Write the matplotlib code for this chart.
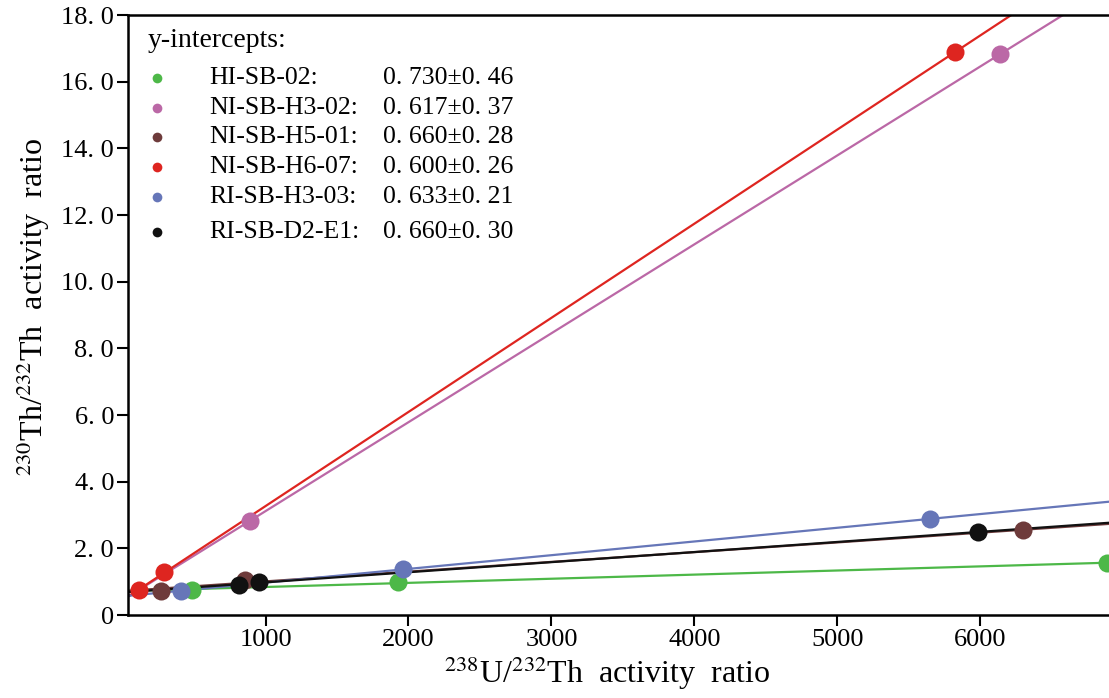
import numpy as np
import matplotlib
matplotlib.use('Agg')
import matplotlib.pyplot as plt

plt.rcParams['font.family'] = ['Liberation Serif', 'DejaVu Serif']
plt.rcParams['mathtext.fontset'] = 'stix'

# samples and their points
samples = ['HI-SB-02', 'NI-SB-H3-02', 'NI-SB-H5-01', 'NI-SB-H6-07', 'RI-SB-H3-03', 'RI-SB-D2-E1']
intercepts = ['0. 730±0. 46', '0. 617±0. 37', '0. 660±0. 28',
              '0. 600±0. 26', '0. 633±0. 21', '0. 660±0. 30']
colors = ['#4db848', '#bb68a6', '#6e3b3b', '#de2520', '#6676b8', '#111111']

u_th = [
    [488, 1926, 6884],
    [889, 6140],
    [270, 859, 6301],
    [116, 292, 5824],
    [411, 1960, 5649],
    [811, 957, 5987],
]
th_th = [
    [0.75, 0.99, 1.56],
    [2.82, 16.83],
    [0.72, 1.05, 2.55],
    [0.75, 1.29, 16.89],
    [0.72, 1.38, 2.88],
    [0.90, 0.99, 2.49],
]

yticks = [0, 2, 4, 6, 8, 10, 12, 14, 16, 18]
ytick_labels = ['0', '2. 0', '4. 0', '6. 0', '8. 0', '10. 0', '12. 0', '14. 0', '16. 0', '18. 0']
xticks = [1000, 2000, 3000, 4000, 5000, 6000]

fig = plt.figure(figsize=(11.09, 6.98), dpi=100)
ax = fig.add_axes([128 / 1109, 83 / 698, 981 / 1109, 600 / 698])

xx = np.array([0, 7000])
for xs, ys, c in zip(u_th, th_th, colors):
    k, b = np.polyfit(xs, ys, 1)
    ax.plot(xx, k * xx + b, color=c, lw=1.6, zorder=2)
for xs, ys, c in zip(u_th, th_th, colors):
    ax.plot(xs, ys, 'o', color=c, ms=13, mec='none', zorder=3)

ax.set_xlim(38, 6900)
ax.set_ylim(0, 18)
ax.set_yticks(yticks)
ax.set_yticklabels(ytick_labels)
ax.set_xticks(xticks)
ax.tick_params(direction='out', length=8, width=1.5, labelsize=19, pad=2)
ax.spines['right'].set_visible(False)
for s in ['left', 'bottom', 'top']:
    ax.spines[s].set_linewidth(1.8)

ax.set_xlabel(r'$^{238}$U/$^{232}$Th  activity  ratio', fontsize=23, labelpad=2)
ax.set_ylabel(r'$^{230}$Th/$^{232}$Th  activity  ratio', fontsize=23, labelpad=4)
ax.xaxis.set_label_coords(0.488, -0.065)
ax.yaxis.set_label_coords(-0.077, 0.513)

# legend block drawn by hand (axes fractions)
ax.text(0.02, 0.958, 'y-intercepts:', transform=ax.transAxes, fontsize=20, va='center')
rows_y = [0.895, 0.845, 0.797, 0.747, 0.697, 0.638]
for name, val, c, ry in zip(samples, intercepts, colors, rows_y):
    ax.plot([0.0296], [ry], 'o', color=c, ms=7, mec='none', transform=ax.transAxes, clip_on=False)
    ax.text(0.0826, ry, name + ':', transform=ax.transAxes, fontsize=18.5, va='center')
    ax.text(0.26, ry, val, transform=ax.transAxes, fontsize=18.5, va='center')

fig.savefig('out.png', dpi=100)
